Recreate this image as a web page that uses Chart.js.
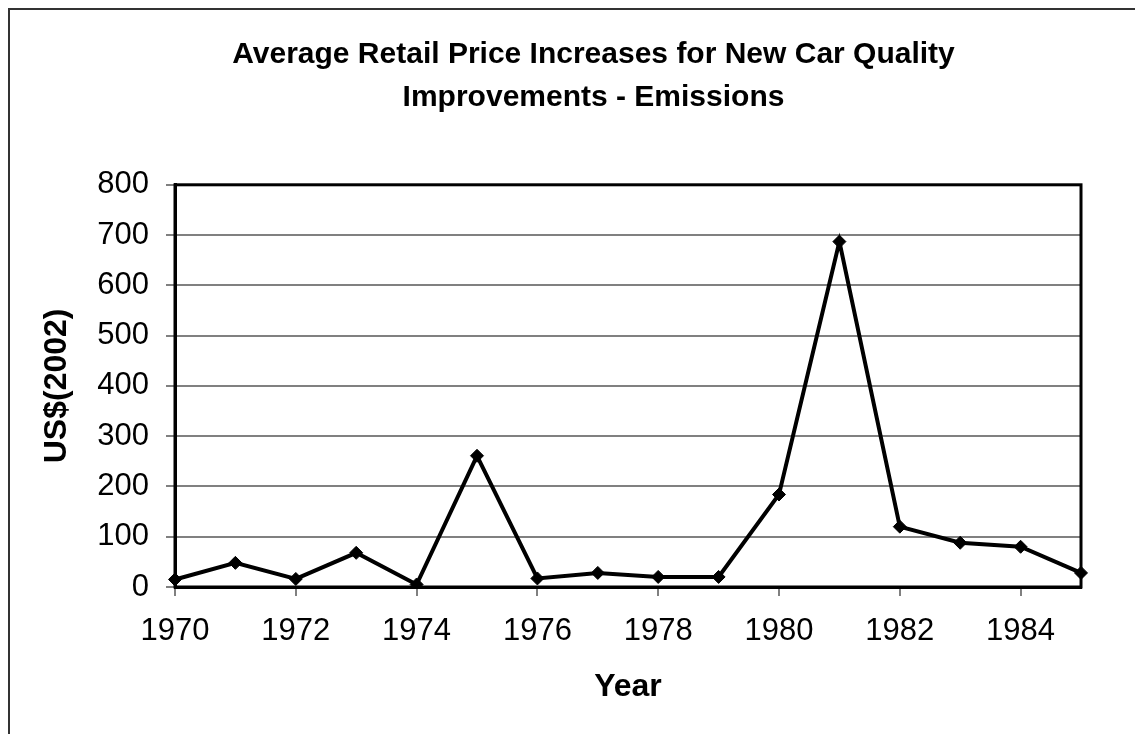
<!DOCTYPE html>
<html>
<head>
<meta charset="utf-8">
<script src="https://cdn.jsdelivr.net/npm/chart.js@4.4.0/dist/chart.umd.min.js"></script>
<style>
  html, body { margin: 0; padding: 0; background: #fff; }
  #wrap { position: relative; width: 1135px; height: 734px; }
</style>
</head>
<body>
<div id="wrap"><canvas id="emissions" width="1135" height="734"></canvas></div>
<script>
// data
var years = ['1970','1971','1972','1973','1974','1975','1976','1977','1978','1979','1980','1981','1982','1983','1984','1985'];
var priceIncrease = [15, 48, 16, 68, 5, 261, 17, 28, 20, 20, 184, 687, 120, 88, 80, 28];
var titleLines = ['Average Retail Price Increases for New Car Quality', 'Improvements - Emissions'];
var xTitle = 'Year';
var yTitle = 'US$(2002)';

var fontFamily = "'Liberation Sans', Arial, sans-serif";

// outer frame + plot-area frame like the excel chart
var framePlugin = {
    id: 'frames',
    afterLayout: function (chart) {
        // excel centres the title over a wider chart, nudge it right
        if (chart.titleBlock) {
            chart.titleBlock.left += 53;
            chart.titleBlock.right += 53;
        }
    },
    beforeDraw: function (chart) {
        var c = chart.ctx;
        c.save();
        c.fillStyle = '#fff';
        c.fillRect(0, 0, chart.width, chart.height);
        c.strokeStyle = '#333';
        c.lineWidth = 2;
        c.strokeRect(9, 9, chart.width + 50, chart.height + 50);
        c.restore();
    },
    beforeDatasetsDraw: function (chart) {
        var a = chart.chartArea;
        var c = chart.ctx;
        c.save();
        c.strokeStyle = '#000';
        c.lineWidth = 3;
        c.strokeRect(a.left, a.top, a.right - a.left, a.bottom - a.top);
        c.restore();
    }
};

var ctx = document.getElementById('emissions').getContext('2d');
window.myLine = new Chart(ctx, {
    type: 'line',
    data: {
        labels: years,
        datasets: [{
            label: 'Emissions',
            data: priceIncrease,
            borderColor: '#000',
            backgroundColor: '#000',
            borderWidth: 4,
            pointStyle: 'rectRot',
            pointRadius: 6.5,
            pointBorderWidth: 1,
            pointBackgroundColor: '#000',
            pointBorderColor: '#000',
            tension: 0,
            fill: false
        }]
    },
    options: {
        responsive: false,
        animation: false,
        devicePixelRatio: 1,
        layout: {
            padding: { left: 0, right: 54, top: 0, bottom: 0 }
        },
        plugins: {
            legend: { display: false },
            tooltip: { enabled: false },
            title: {
                display: true,
                text: titleLines,
                color: '#000',
                font: { family: fontFamily, size: 30, weight: 'bold', lineHeight: 1.43 },
                padding: { top: 33, bottom: 66 }
            }
        },
        scales: {
            x: {
                type: 'category',
                offset: false,
                afterFit: function (scale) { scale.height = 147; },
                grid: {
                    drawOnChartArea: false,
                    tickLength: 9,
                    lineWidth: 2,
                    color: function (c) { return c.index % 2 === 0 ? '#808080' : 'rgba(0,0,0,0)'; }
                },
                border: { display: true, color: '#000', width: 3 },
                ticks: {
                    autoSkip: false,
                    maxRotation: 0,
                    color: '#000',
                    padding: 17,
                    font: { family: fontFamily, size: 31 },
                    callback: function (val, i) { return i % 2 === 0 ? years[i] : ''; }
                },
                title: {
                    display: true,
                    text: xTitle,
                    color: '#000',
                    font: { family: fontFamily, size: 32, weight: 'bold' },
                    padding: { top: 0, bottom: 28 }
                }
            },
            y: {
                min: 0,
                max: 800,
                afterFit: function (scale) { scale.width = 175; },
                grid: {
                    color: '#808080',
                    lineWidth: 2,
                    tickLength: 9
                },
                border: { display: true, color: '#000', width: 3 },
                ticks: {
                    stepSize: 100,
                    color: '#000',
                    padding: 17,
                    font: { family: fontFamily, size: 31 }
                },
                title: {
                    display: true,
                    text: yTitle,
                    color: '#000',
                    font: { family: fontFamily, size: 32, weight: 'bold' },
                    padding: { top: 38, bottom: 0 }
                }
            }
        }
    },
    plugins: [framePlugin]
});
</script>
</body>
</html>
